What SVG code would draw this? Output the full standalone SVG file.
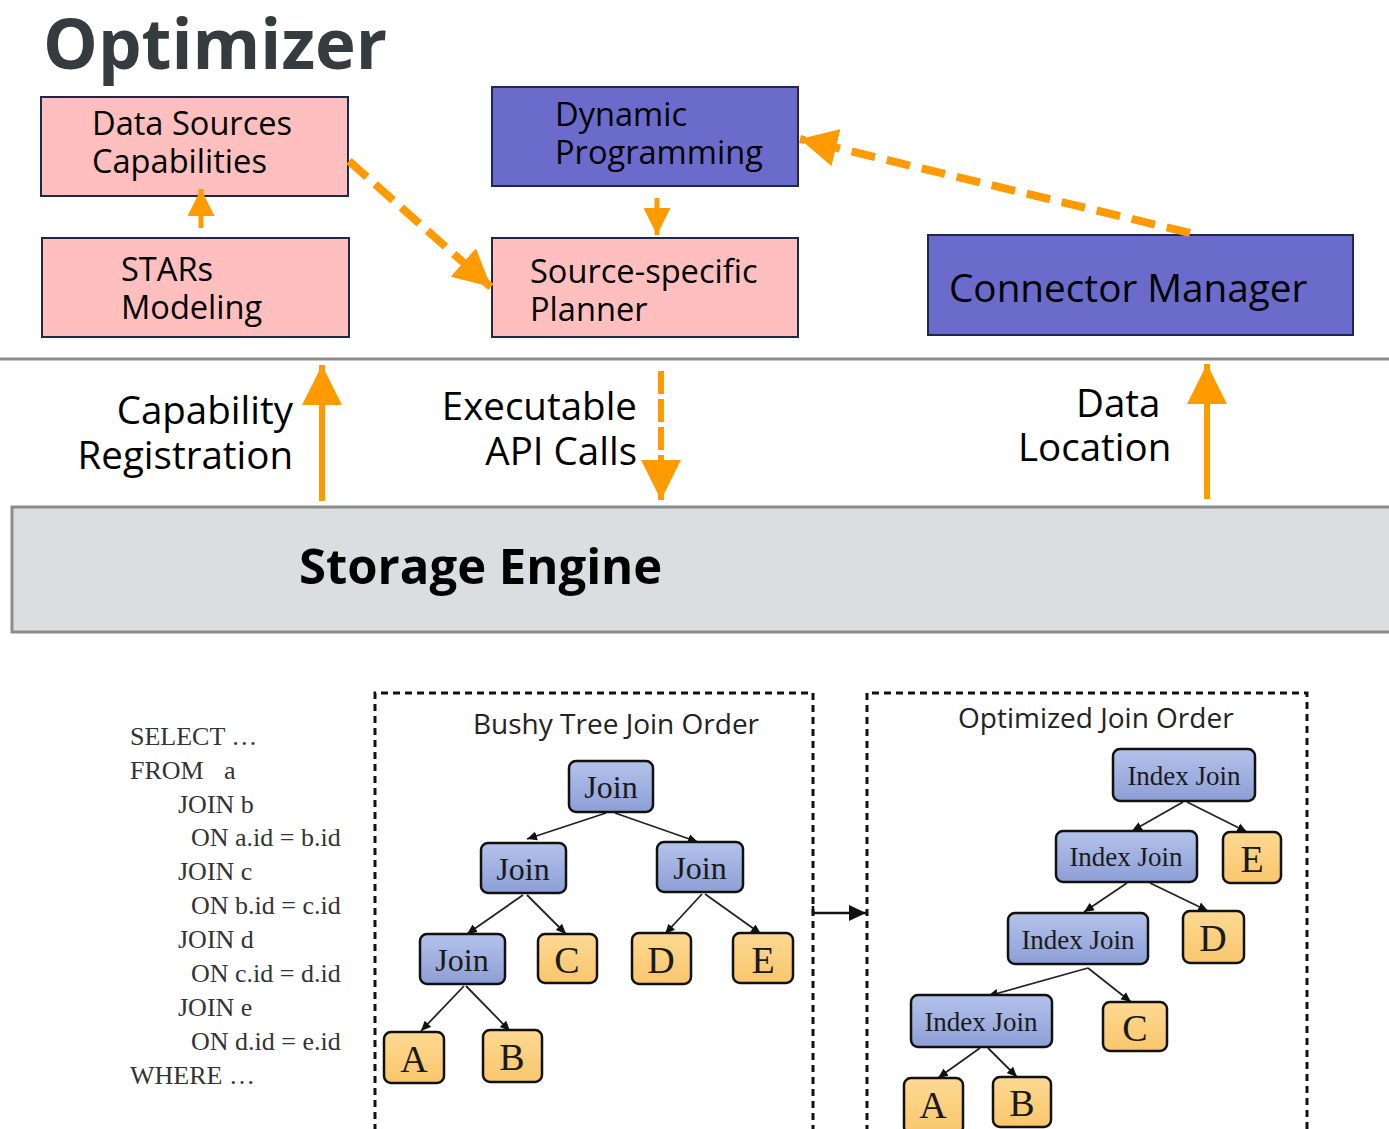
<svg xmlns="http://www.w3.org/2000/svg" width="1389" height="1129" viewBox="0 0 1389 1129">
  <style>
    .sans { font-family: "Open Sans", "Noto Sans", "DejaVu Sans", sans-serif; }
    .serif { font-family: "Liberation Serif", "Times New Roman", serif; }
    .pink { fill: #ffbfbf; stroke: #1c2a48; stroke-width: 2; }
    .blue { fill: #6b6bcc; stroke: #1c2a48; stroke-width: 2; }
    .box-text { font-size: 32.6px; fill: #000; }
    .label { font-size: 38.5px; fill: #000; }
    .join { fill: url(#joinFill); stroke: #111; stroke-width: 2.5; }
    .leaf { fill: url(#leafFill); stroke: #111; stroke-width: 2.5; }
    .join-text { font-size: 32px; fill: #1a1a1a; text-anchor: middle; }
    .ij-text { font-size: 27px; fill: #1a1a1a; text-anchor: middle; }
    .leaf-text { font-size: 38px; fill: #1a1a1a; text-anchor: middle; }
    .sql { font-size: 26px; fill: #333; }
    .frame { fill: none; stroke: #111; stroke-width: 3; stroke-dasharray: 7 5; }
    .orange { stroke: #ff9a00; fill: none; }
    .edge { stroke: #222; stroke-width: 1.8; fill: none; marker-end: url(#headK); }
  </style>
  <defs>
    <linearGradient id="joinFill" x1="0" y1="0" x2="0" y2="1">
      <stop offset="0" stop-color="#b4c3ea"/>
      <stop offset="1" stop-color="#8d9ed6"/>
    </linearGradient>
    <linearGradient id="leafFill" x1="0" y1="0" x2="0" y2="1">
      <stop offset="0" stop-color="#fdd993"/>
      <stop offset="1" stop-color="#f9c66c"/>
    </linearGradient>
    <marker id="headL" markerUnits="userSpaceOnUse" markerWidth="40" markerHeight="40" refX="40" refY="20" orient="auto">
      <path d="M0,0 L40,20 L0,40 Z" fill="#ff9a00"/>
    </marker>
    <marker id="headM" markerUnits="userSpaceOnUse" markerWidth="38" markerHeight="38" refX="37" refY="19" orient="auto">
      <path d="M0,0 L37,19 L0,38 Z" fill="#ff9a00"/>
    </marker>
    <marker id="headS" markerUnits="userSpaceOnUse" markerWidth="27" markerHeight="27" refX="27" refY="13.5" orient="auto">
      <path d="M0,0 L27,13.5 L0,27 Z" fill="#ff9a00"/>
    </marker>
    <marker id="headK" markerUnits="userSpaceOnUse" markerWidth="11" markerHeight="10" refX="10" refY="5" orient="auto">
      <path d="M0,0.5 L10,5 L0,9.5 Z" fill="#111"/>
    </marker>
    <marker id="headK2" markerUnits="userSpaceOnUse" markerWidth="18" markerHeight="16" refX="17" refY="8" orient="auto">
      <path d="M0,0 L17,8 L0,16 Z" fill="#111"/>
    </marker>
  </defs>

  <rect width="1389" height="1129" fill="#fff"/>

  <!-- Optimizer layer -->
  <text class="sans" x="43" y="69" font-size="69" font-weight="700" fill="#363b40">Optimizer</text>

  <g id="data-sources-capabilities">
    <rect class="pink" x="41" y="97" width="307" height="99"/>
    <text class="sans box-text" x="92" y="135">Data Sources</text>
    <text class="sans box-text" x="92" y="173">Capabilities</text>
  </g>
  <g id="stars-modeling">
    <rect class="pink" x="42" y="238" width="307" height="99"/>
    <text class="sans box-text" x="121" y="281">STARs</text>
    <text class="sans box-text" x="121" y="319">Modeling</text>
  </g>
  <g id="dynamic-programming">
    <rect class="blue" x="492" y="87" width="306" height="99"/>
    <text class="sans box-text" x="555" y="126">Dynamic</text>
    <text class="sans box-text" x="555" y="164">Programming</text>
  </g>
  <g id="source-specific-planner">
    <rect class="pink" x="492" y="238" width="306" height="99"/>
    <text class="sans box-text" x="530" y="283">Source-specific</text>
    <text class="sans box-text" x="530" y="321">Planner</text>
  </g>
  <g id="connector-manager">
    <rect class="blue" x="928" y="235" width="425" height="100"/>
    <text class="sans" x="949" y="302" font-size="38.7" fill="#000">Connector Manager</text>
  </g>

  <!-- layer divider -->
  <line x1="0" y1="359" x2="1389" y2="359" stroke="#8c8c8c" stroke-width="3"/>

  <g id="storage-engine">
    <rect x="12" y="507" width="1390" height="125" fill="#dcdde1" stroke="#8c8c8c" stroke-width="3"/>
    <text class="sans" x="299" y="584" font-size="49" font-weight="700" fill="#000">Storage Engine</text>
  </g>

  <!-- flow labels -->
  <g id="labels">
    <text class="sans label" x="293" y="424" text-anchor="end">Capability</text>
    <text class="sans label" x="293" y="469" text-anchor="end">Registration</text>
    <text class="sans label" x="637" y="420" text-anchor="end">Executable</text>
    <text class="sans label" x="637" y="465" text-anchor="end">API Calls</text>
    <text class="sans label" x="1076" y="417">Data</text>
    <text class="sans label" x="1018" y="461">Location</text>
  </g>

  <!-- optimizer connectors -->
  <g id="connectors">
    <line class="orange" x1="201" y1="228" x2="201" y2="189" stroke-width="5" marker-end="url(#headS)"/>
    <line class="orange" x1="657" y1="198" x2="657" y2="235" stroke-width="5" marker-end="url(#headS)"/>
    <line class="orange" x1="349" y1="161" x2="491" y2="287" stroke-width="8" stroke-dasharray="24 11" marker-end="url(#headM)"/>
    <line class="orange" x1="1190" y1="233" x2="800" y2="139" stroke-width="8" stroke-dasharray="24 12" marker-end="url(#headM)"/>
    <line class="orange" x1="322" y1="501" x2="322" y2="365" stroke-width="6" marker-end="url(#headL)"/>
    <line class="orange" x1="661" y1="371" x2="661" y2="500" stroke-width="6" stroke-dasharray="23 5" marker-end="url(#headL)"/>
    <line class="orange" x1="1207" y1="499" x2="1207" y2="364" stroke-width="6" marker-end="url(#headL)"/>
  </g>

  <!-- query text -->
  <g id="query" class="serif sql">
    <text x="130" y="745">SELECT …</text>
    <text x="130" y="779">FROM</text>
    <text x="224" y="779">a</text>
    <text x="178" y="813">JOIN b</text>
    <text x="191" y="846">ON a.id = b.id</text>
    <text x="178" y="880">JOIN c</text>
    <text x="191" y="914">ON b.id = c.id</text>
    <text x="178" y="948">JOIN d</text>
    <text x="191" y="982">ON c.id = d.id</text>
    <text x="178" y="1016">JOIN e</text>
    <text x="191" y="1050">ON d.id = e.id</text>
    <text x="130" y="1084">WHERE …</text>
  </g>

  <!-- bushy plan -->
  <g id="bushy-plan">
    <path class="frame" d="M813,1132 V693 H375 V1132"/>
    <text class="sans" x="473" y="734" font-size="28" fill="#222">Bushy Tree Join Order</text>
  </g>
  <g id="bushy-edges">
    <line class="edge" x1="606" y1="813" x2="527" y2="839"/>
    <line class="edge" x1="615" y1="813" x2="698" y2="842"/>
    <line class="edge" x1="523" y1="895" x2="467" y2="934"/>
    <line class="edge" x1="527" y1="895" x2="566" y2="934"/>
    <line class="edge" x1="702" y1="894" x2="665" y2="934"/>
    <line class="edge" x1="705" y1="894" x2="761" y2="934"/>
    <line class="edge" x1="464" y1="986" x2="421" y2="1031"/>
    <line class="edge" x1="466" y1="986" x2="510" y2="1031"/>
  </g>
  <g id="b-join-root"><rect class="join" x="569" y="761" width="84" height="51" rx="7"/><text class="serif join-text" x="611" y="798">Join</text></g>
  <g id="b-join-left"><rect class="join" x="481" y="843" width="85" height="50" rx="7"/><text class="serif join-text" x="523" y="880">Join</text></g>
  <g id="b-join-right"><rect class="join" x="657" y="842" width="86" height="50" rx="7"/><text class="serif join-text" x="700" y="879">Join</text></g>
  <g id="b-join-ab"><rect class="join" x="420" y="934" width="85" height="50" rx="7"/><text class="serif join-text" x="462" y="971">Join</text></g>
  <g id="b-c"><rect class="leaf" x="538" y="934" width="59" height="49" rx="7"/><text class="serif leaf-text" x="567" y="973">C</text></g>
  <g id="b-d"><rect class="leaf" x="632" y="933" width="59" height="51" rx="7"/><text class="serif leaf-text" x="661" y="973">D</text></g>
  <g id="b-e"><rect class="leaf" x="733" y="933" width="60" height="50" rx="7"/><text class="serif leaf-text" x="763" y="973">E</text></g>
  <g id="b-a"><rect class="leaf" x="384" y="1032" width="60" height="51" rx="7"/><text class="serif leaf-text" x="414" y="1072">A</text></g>
  <g id="b-b"><rect class="leaf" x="483" y="1030" width="59" height="52" rx="7"/><text class="serif leaf-text" x="512" y="1070">B</text></g>

  <!-- rewrite step -->
  <g id="rewrite-arrow">
    <path d="M813,906 V913 H866" fill="none" stroke="#111" stroke-width="2.5" marker-end="url(#headK2)"/>
  </g>

  <!-- optimized plan -->
  <g id="optimized-plan">
    <path class="frame" d="M867,1132 V693 H1307 V1132"/>
    <text class="sans" x="958" y="728" font-size="28" fill="#222">Optimized Join Order</text>
  </g>
  <g id="optimized-edges">
    <line class="edge" x1="1183" y1="802" x2="1132" y2="831"/>
    <line class="edge" x1="1187" y1="802" x2="1247" y2="832"/>
    <line class="edge" x1="1127" y1="883" x2="1084" y2="912"/>
    <line class="edge" x1="1150" y1="883" x2="1208" y2="911"/>
    <line class="edge" x1="1088" y1="968" x2="988" y2="996"/>
    <line class="edge" x1="1088" y1="968" x2="1131" y2="1002"/>
    <line class="edge" x1="980" y1="1048" x2="938" y2="1078"/>
    <line class="edge" x1="988" y1="1048" x2="1017" y2="1077"/>
  </g>
  <g id="o-ij-1"><rect class="join" x="1113" y="749" width="142" height="52" rx="7"/><text class="serif ij-text" x="1184" y="785">Index Join</text></g>
  <g id="o-ij-2"><rect class="join" x="1056" y="831" width="141" height="51" rx="7"/><text class="serif ij-text" x="1126" y="866">Index Join</text></g>
  <g id="o-e"><rect class="leaf" x="1223" y="832" width="58" height="51" rx="7"/><text class="serif leaf-text" x="1252" y="872">E</text></g>
  <g id="o-ij-3"><rect class="join" x="1008" y="913" width="140" height="51" rx="7"/><text class="serif ij-text" x="1078" y="949">Index Join</text></g>
  <g id="o-d"><rect class="leaf" x="1183" y="911" width="61" height="52" rx="7"/><text class="serif leaf-text" x="1213" y="951">D</text></g>
  <g id="o-ij-4"><rect class="join" x="911" y="995" width="141" height="52" rx="7"/><text class="serif ij-text" x="981" y="1031">Index Join</text></g>
  <g id="o-c"><rect class="leaf" x="1103" y="1002" width="64" height="49" rx="7"/><text class="serif leaf-text" x="1135" y="1041">C</text></g>
  <g id="o-a"><rect class="leaf" x="904" y="1078" width="59" height="56" rx="7"/><text class="serif leaf-text" x="933" y="1118">A</text></g>
  <g id="o-b"><rect class="leaf" x="993" y="1077" width="58" height="50" rx="7"/><text class="serif leaf-text" x="1022" y="1116">B</text></g>
</svg>
